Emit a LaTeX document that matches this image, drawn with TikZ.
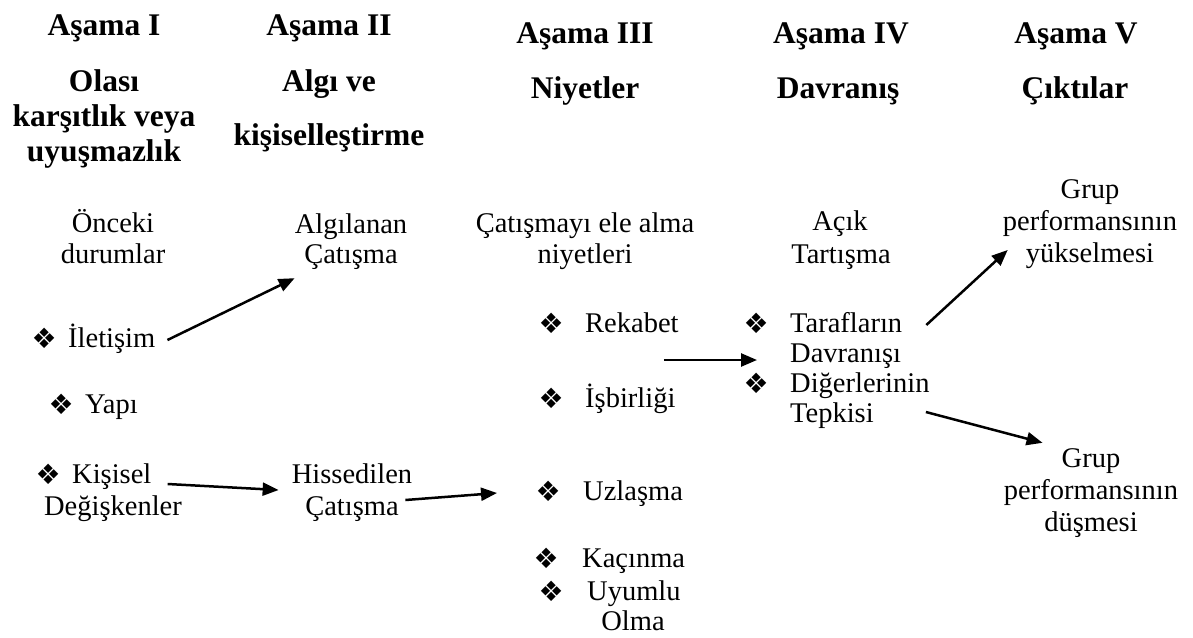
\documentclass[tikz,border=0pt]{standalone}
\usepackage{fontspec}
\setmainfont{Liberation Serif}
\newfontfamily\dejavu{DejaVu Sans}
\usetikzlibrary{arrows.meta}
\newcommand\bul{\raisebox{-1pt}{\dejavu\fontsize{28}{28}\selectfont ❖}}
\newcommand\bitem[2]{\makebox[22pt][c]{\bul}\hspace{#1}#2}
\begin{document}
\begin{tikzpicture}[x=1pt,y=-1pt,
 txt/.style={font=\fontsize{28.5}{31}\selectfont, inner sep=0pt, text height=20pt, text depth=6pt, anchor=base},
 txtl/.style={txt, anchor=base west},
 hdr/.style={font=\fontsize{31.5}{35}\selectfont\bfseries, inner sep=0pt, anchor=base},
 arr/.style={line width=2.5pt, -{Triangle[length=16pt,width=13pt]}}]
\useasboundingbox[fill=white] (0,0) rectangle (1193,637);
% headers
\node[hdr] (h1a) at (104,35) {Aşama I};
\node[hdr] (h1b) at (104,91) {Olası};
\node[hdr] (h1c) at (104,126) {karşıtlık veya};
\node[hdr] (h1d) at (104,161) {uyuşmazlık};
\node[hdr] (h2a) at (329,35) {Aşama II};
\node[hdr] (h2b) at (329,91) {Algı ve};
\node[hdr] (h2c) at (329,145) {kişiselleştirme};
\node[hdr] (h3a) at (585,43) {Aşama III};
\node[hdr] (h3b) at (585,98) {Niyetler};
\node[hdr] (h4a) at (841,43) {Aşama IV};
\node[hdr] (h4b) at (838,98) {Davranış};
\node[hdr] (h5a) at (1076,43) {Aşama V};
\node[hdr] (h5b) at (1075,98) {Çıktılar};
% column 1
\node[txt] (onc1) at (113,232) {Önceki};
\node[txt] (onc2) at (113,263) {durumlar};
\node[txtl] (ilet) at (33,347) {\bitem{13pt}{İletişim}};
\node[txtl] (yapi) at (50,413) {\bitem{13pt}{Yapı}};
\node[txtl] (kis) at (37,483) {\bitem{13pt}{Kişisel}};
\node[txt] (deg) at (113,515) {Değişkenler};
% column 2
\node[txt] (alg1) at (351,233) {Algılanan};
\node[txt] (alg2) at (351,263) {Çatışma};
\node[txt] (his1) at (352,483) {Hissedilen};
\node[txt] (his2) at (352,515) {Çatışma};
% column 3
\node[txt] (cat1) at (585,232) {Çatışmayı ele alma};
\node[txt] (cat2) at (585,263) {niyetleri};
\node[txtl] (rek) at (540,332) {\bitem{23pt}{Rekabet}};
\node[txtl] (isb) at (540,407) {\bitem{23pt}{İşbirliği}};
\node[txtl] (uz) at (537,500) {\bitem{24pt}{Uzlaşma}};
\node[txtl] (kac) at (535,567) {\bitem{25pt}{Kaçınma}};
\node[txtl] (uyu) at (540,600) {\bitem{25pt}{Uyumlu}};
\node[txt] (olma) at (633,630) {Olma};
% column 4
\node[txt] (acik1) at (840,230) {Açık};
\node[txt] (acik2) at (841,263) {Tartışma};
\node[txtl] (tar) at (745,332) {\bitem{23pt}{Tarafların}};
\node[txtl] (dav) at (790,362) {Davranışı};
\node[txtl] (dig) at (745,392) {\bitem{23pt}{Diğerlerinin}};
\node[txtl] (tep) at (790,422) {Tepkisi};
% column 5
\node[txt] (yuk1) at (1090,198) {Grup};
\node[txt] (yuk2) at (1090,230) {performansının};
\node[txt] (yuk3) at (1090,262) {yükselmesi};
\node[txt] (dus1) at (1091,467) {Grup};
\node[txt] (dus2) at (1091,499) {performansının};
\node[txt] (dus3) at (1091,531) {düşmesi};
% arrows
\draw[arr] ([xshift=12pt]ilet.east) -- ([shift={(-9.5pt,-9pt)}]alg2.south west);
\draw[arr] ([shift={(16pt,-8pt)}]kis.east) -- ([shift={(-13pt,-14pt)}]his1.west);
\draw[arr] ([shift={(6.5pt,8pt)}]his2.east) -- ([xshift=-40pt]uz.west);
\draw[arr] ([shift={(-15pt,-35pt)}]rek.east) -- ([shift={(-33pt,-5pt)}]dav.west);
\draw[arr] ([xshift=24pt]tar.east) -- ([shift={(-18pt,5pt)}]yuk3.west);
\draw[arr] ([shift={(52pt,3pt)}]tep.east) -- ([shift={(-19pt,4pt)}]dus1.north west);
\end{tikzpicture}
\end{document}
